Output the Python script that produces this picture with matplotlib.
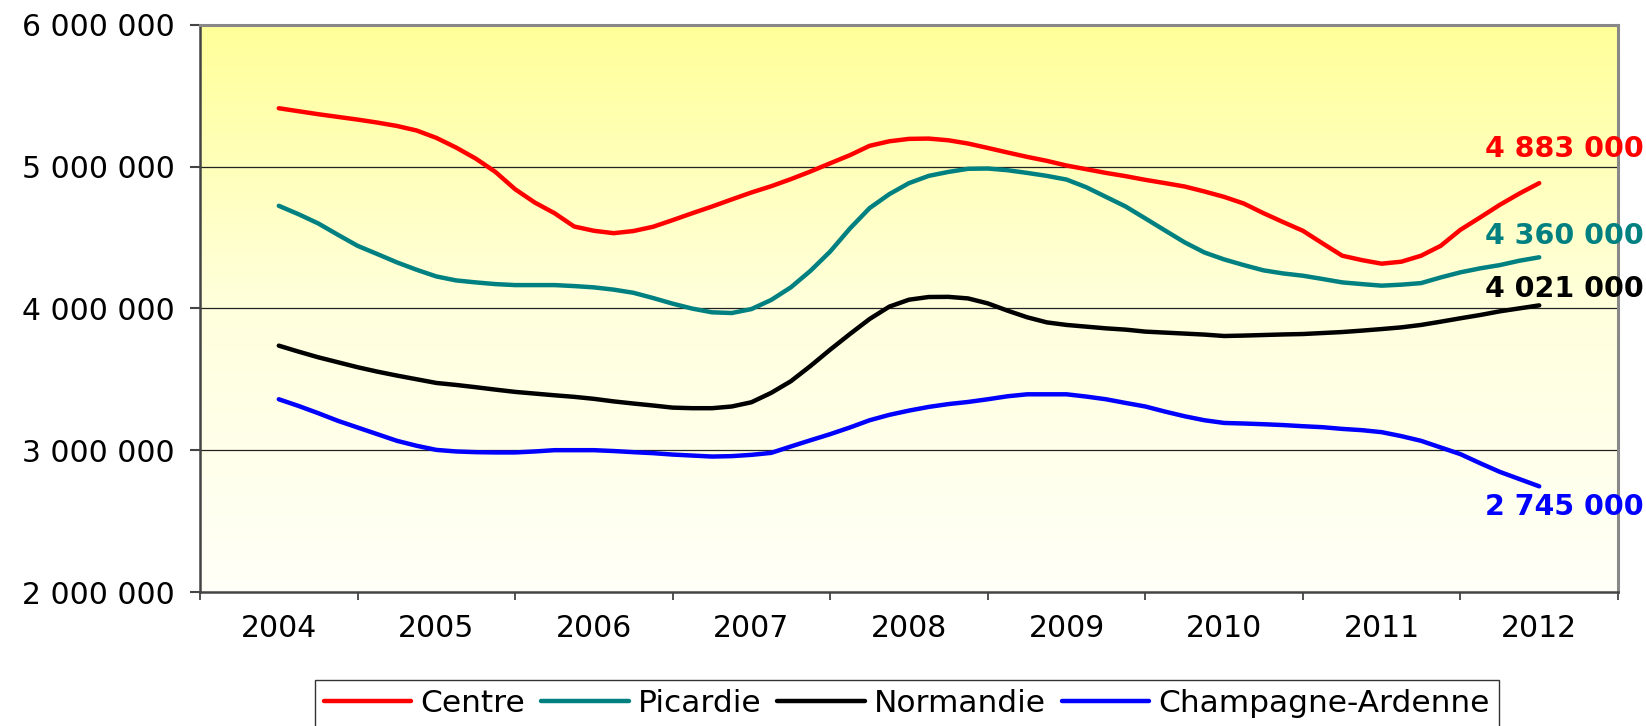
import numpy as np
import matplotlib
matplotlib.use("Agg")
import matplotlib.pyplot as plt
from matplotlib.colors import LinearSegmentedColormap
from matplotlib.ticker import FuncFormatter, FixedLocator

plt.rcParams['font.family'] = ['DejaVu Sans']

years = ["2004", "2005", "2006", "2007", "2008", "2009", "2010", "2011", "2012"]
step = 1 / 8  # one value every eighth of a year, from 2004 to 2012

centre = [5411, 5390, 5369, 5350, 5331, 5310, 5286, 5254, 5202,
          5134, 5056, 4962, 4840, 4746, 4671, 4577, 4547,
          4530, 4545, 4575, 4622, 4671, 4718, 4768, 4817,
          4861, 4911, 4965, 5023, 5080, 5146, 5178, 5195,
          5197, 5185, 5162, 5131, 5099, 5068, 5040, 5007,
          4981, 4955, 4932, 4906, 4883, 4859, 4824, 4786,
          4739, 4671, 4608, 4547, 4458, 4371, 4340, 4315,
          4329, 4371, 4441, 4554, 4641, 4730, 4810, 4883]
picardie = [4723, 4664, 4599, 4519, 4441, 4383, 4324, 4272, 4225,
            4197, 4183, 4171, 4164, 4164, 4164, 4157, 4148,
            4132, 4110, 4073, 4033, 3998, 3972, 3967, 3995,
            4059, 4148, 4265, 4401, 4563, 4707, 4805, 4883,
            4934, 4962, 4984, 4986, 4974, 4955, 4934, 4908,
            4854, 4786, 4718, 4634, 4549, 4465, 4394, 4345,
            4305, 4268, 4246, 4230, 4207, 4183, 4171, 4160,
            4167, 4178, 4218, 4254, 4282, 4305, 4336, 4360]
normandie = [3737, 3695, 3655, 3620, 3585, 3554, 3526, 3500, 3474,
             3460, 3444, 3427, 3411, 3399, 3387, 3376, 3362,
             3344, 3329, 3315, 3300, 3296, 3296, 3308, 3338,
             3404, 3486, 3594, 3709, 3819, 3925, 4012, 4061,
             4080, 4081, 4070, 4035, 3984, 3937, 3901, 3883,
             3871, 3859, 3850, 3836, 3829, 3822, 3815, 3805,
             3808, 3812, 3816, 3819, 3826, 3833, 3843, 3854,
             3866, 3883, 3906, 3930, 3953, 3979, 4000, 4021]
champagne = [3359, 3312, 3261, 3207, 3160, 3113, 3066, 3031, 3002,
             2991, 2986, 2984, 2984, 2991, 3000, 3000, 3000,
             2994, 2986, 2979, 2969, 2962, 2955, 2958, 2967,
             2981, 3026, 3070, 3113, 3160, 3211, 3249, 3279,
             3305, 3325, 3340, 3359, 3380, 3394, 3394, 3394,
             3378, 3359, 3333, 3308, 3272, 3239, 3211, 3192,
             3188, 3183, 3177, 3169, 3162, 3150, 3141, 3127,
             3099, 3066, 3019, 2972, 2908, 2847, 2796, 2745]

series_names = ["Centre", "Picardie", "Normandie", "Champagne-Ardenne"]
series_values = [centre, picardie, normandie, champagne]
series_colors = ["#FF0000", "#008080", "#000000", "#0000FF"]
end_labels = ["4 883 000", "4 360 000", "4 021 000", "2 745 000"]
end_label_values = [5126000, 4513000, 4133000, 2598000]

yticks = [2000000, 3000000, 4000000, 5000000, 6000000]

fig = plt.figure(figsize=(16.46, 7.26), dpi=100)
ax = fig.add_axes([200 / 1646, 1 - 592 / 726, 1418 / 1646, (592 - 24.7) / 726])

# background gradient
cmap = LinearSegmentedColormap.from_list("bg", ["#FFFFF8", "#FFFFDD", "#FFFF99"])
grad = np.linspace(0, 1, 256).reshape(-1, 1)
ax.imshow(grad, extent=[0, 1, 0, 1], transform=ax.transAxes, aspect='auto',
          cmap=cmap, origin='lower', zorder=0)

for name, vals, col in zip(series_names, series_values, series_colors):
    v = np.array(vals) * 1000
    x = 0.5 + np.arange(len(v)) * step
    ax.plot(x, v, color=col, lw=3.2, label=name, zorder=3, solid_capstyle='round',
            solid_joinstyle='round')

xend = 0.5 + (len(centre) - 1) * step
for txt, val, col in zip(end_labels, end_label_values, series_colors):
    ax.text(xend + 0.16, val, txt, color=col, fontsize=20.5, fontweight='bold',
            ha='center', va='center', clip_on=False, zorder=5)

ax.set_xlim(0, 9)
ax.set_ylim(2000000, 6000000)
ax.set_yticks(yticks)
ax.yaxis.set_major_formatter(FuncFormatter(lambda v, p: f"{v:,.0f}".replace(",", " ")))
for yv in yticks[1:-1]:
    ax.axhline(yv, color='#222222', lw=0.9, zorder=1)

ax.xaxis.set_major_locator(FixedLocator(np.arange(0, 10)))
ax.xaxis.set_minor_locator(FixedLocator(np.arange(len(years)) + 0.5))
ax.set_xticklabels([], minor=False)
ax.set_xticklabels(years, minor=True)
ax.tick_params(axis='x', which='major', length=6, width=1.2, color='#333333', direction='out')
ax.tick_params(axis='x', which='minor', length=0, pad=16, labelsize=21.5)
ax.tick_params(axis='y', length=7, width=1.5, color='#444444', pad=11, labelsize=21.5)

for s in ['left', 'bottom']:
    ax.spines[s].set_color('#444444')
    ax.spines[s].set_linewidth(1.8)
for s in ['top', 'right']:
    ax.spines[s].set_color('#888888')
    ax.spines[s].set_linewidth(2.2)

leg = fig.legend(loc='upper left', bbox_to_anchor=(315 / 1646, 1 - 680 / 726),
                 ncol=4, fontsize=22.5, frameon=True, fancybox=False,
                 edgecolor='black', borderaxespad=0, borderpad=0.28,
                 handlelength=2.8, handletextpad=0.3, columnspacing=0.5)
leg.get_frame().set_linewidth(1.0)

fig.savefig("out.png", dpi=100)
